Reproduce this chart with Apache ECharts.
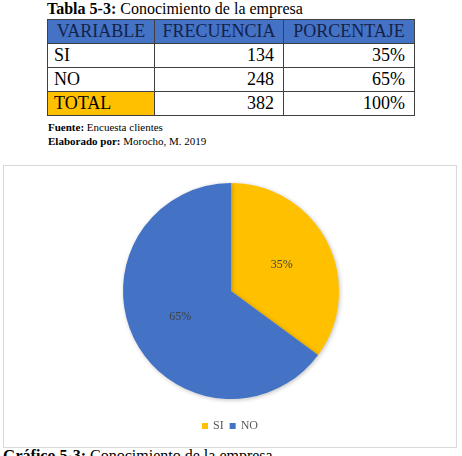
<!DOCTYPE html>
<html>
<head>
<meta charset="utf-8">
<script src="https://cdn.jsdelivr.net/npm/echarts@6/dist/echarts.min.js"></script>
<style>
  body { margin: 0; background: #fff; font-family: "Liberation Serif", "DejaVu Serif", serif; color: #000; }
  #page { position: relative; width: 462px; height: 456px; overflow: hidden; }
  .title { position: absolute; left: 47px; top: 0px; font-size: 16px; line-height: 18px; }
  table { position: absolute; left: 47px; top: 19px; width: 367px; border-collapse: collapse; table-layout: fixed; font-size: 18px; }
  td { border: 1.5px solid #404040; height: 23px; padding: 0 9px 0 6px; line-height: 23px; white-space: nowrap; }
  thead td { background: #4472c4; color: #14224a; text-align: center; padding: 0 2px; }
  .num { text-align: right; }
  .total { background: #ffc000; }
  .src { position: absolute; left: 48px; font-size: 11px; line-height: 13px; }
  #box { position: absolute; left: 3px; top: 165px; width: 452px; height: 281px; border: 1px solid #d9d9d9; }
  #container { width: 452px; height: 281px; }
  .caption { position: absolute; left: 3px; top: 447px; font-size: 16px; line-height: 18px; }
</style>
</head>
<body>
<div id="page">
  <div class="title"><b>Tabla 5-3:</b> Conocimiento de la empresa</div>
  <table id="tbl"></table>
  <div class="src" style="top:121px"><b>Fuente:</b> Encuesta clientes</div>
  <div class="src" style="top:135px"><b>Elaborado por:</b> Morocho, M. 2019</div>
  <div id="box"><div id="container"></div></div>
  <div class="caption"><b>Gráfico 5-3:</b> Conocimiento de la empresa</div>
</div>
<script>
var headers = ['VARIABLE', 'FRECUENCIA', 'PORCENTAJE'];
var categories = ['SI', 'NO'];
var frecuencia = [134, 248];
var porcentaje = ['35%', '65%'];
var totalRow = ['TOTAL', 382, '100%'];
var colors = ['#ffc000', '#4472c4'];

// tabla
var colW = [107, 129, 131];
var html = '<colgroup>';
colW.forEach(function (w) { html += '<col style="width:' + w + 'px">'; });
html += '</colgroup><thead><tr>';
headers.forEach(function (h) {
    html += '<td>' + h + '</td>';
});
html += '</tr></thead><tbody>';
categories.forEach(function (c, i) {
    html += '<tr><td>' + c + '</td><td class="num">' + frecuencia[i] + '</td><td class="num">' + porcentaje[i] + '</td></tr>';
});
html += '<tr><td class="total">' + totalRow[0] + '</td><td class="num">' + totalRow[1] + '</td><td class="num">' + totalRow[2] + '</td></tr></tbody>';
document.getElementById('tbl').innerHTML = html;

// grafico
var dom = document.getElementById("container");
var myChart = echarts.init(dom);
var option = {
    color: colors,
    legend: {
        bottom: 10,
        left: 'center',
        icon: 'rect',
        itemWidth: 6,
        itemHeight: 6,
        itemGap: 6,
        textStyle: {
            fontFamily: 'Liberation Serif',
            fontSize: 12,
            color: '#595959'
        },
        data: categories
    },
    series: [{
        type: 'pie',
        center: [227, 125],
        radius: 108,
        startAngle: 90,
        clockwise: true,
        percentPrecision: 0,
        label: {
            position: 'inside',
            formatter: '{d}%',
            fontFamily: 'Liberation Serif',
            fontSize: 12,
            color: '#404040'
        },
        labelLine: { show: false },
        itemStyle: {
            borderWidth: 0,
            shadowBlur: 4,
            shadowColor: 'rgba(0,0,0,0.25)',
            shadowOffsetX: 1,
            shadowOffsetY: 1
        },
        emphasis: { disabled: true },
        animation: false,
        data: categories.map(function (c, i) {
            return { name: c, value: frecuencia[i] };
        })
    }]
};
myChart.setOption(option, true);
</script>
</body>
</html>
